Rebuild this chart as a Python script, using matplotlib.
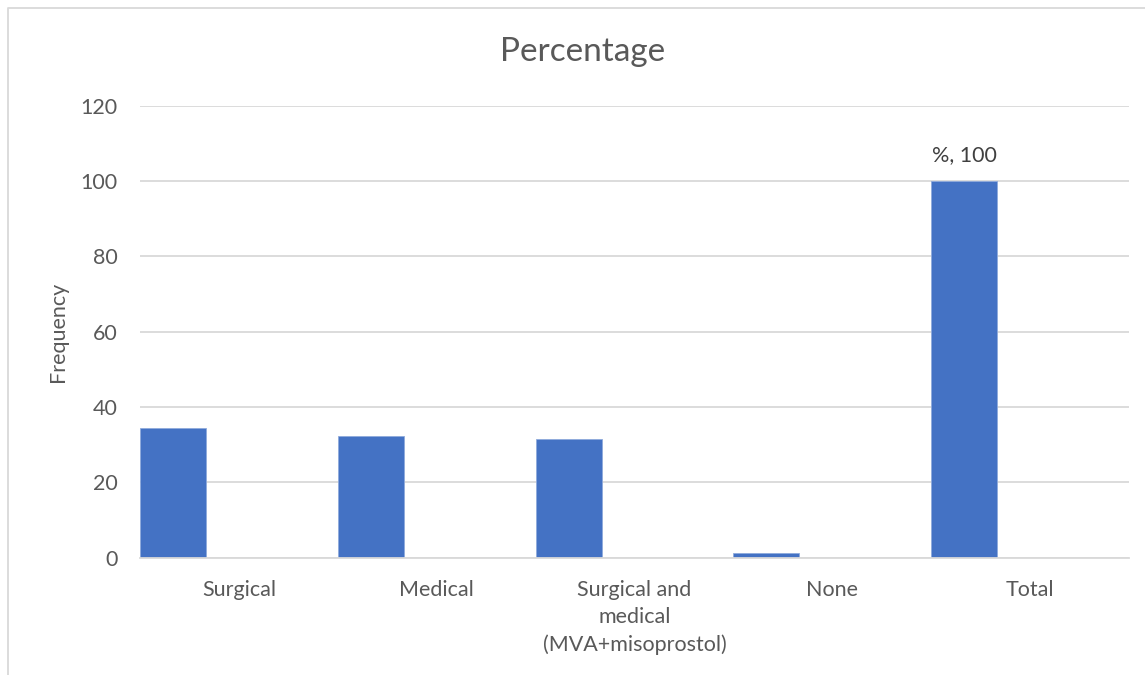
import matplotlib
matplotlib.use("Agg")
import matplotlib.pyplot as plt
from matplotlib.lines import Line2D

categories = ["Surgical", "Medical", "Surgical and\nmedical\n(MVA+misoprostol)", "None", "Total"]
percent = [34.3, 32.2, 31.4, 1.3, 100]
yticks = [0, 20, 40, 60, 80, 100, 120]

W, H = 1145, 675
fig = plt.figure(figsize=(W / 100, H / 100), dpi=100)
plt.rcParams["font.family"] = ["Lato", "DejaVu Sans"]

text_color = "#595959"
grid_color = "#d9d9d9"
bar_color = "#4472c4"
fs = 15.5

left, right = 140 / W, 1129 / W
bottom, top = 1 - 557.5 / H, 1 - 105.5 / H
ax = fig.add_axes([left, bottom, right - left, top - bottom])

x = list(range(len(categories)))
bar_w = 1 / 3
pos = [i - bar_w for i in x]
ax.bar(pos, percent, width=bar_w, color=bar_color,
       edgecolor="#8faadc", linewidth=0.6, zorder=3)

ax.set_xlim(-0.5, len(categories) - 0.5)
ax.set_ylim(0, 120)
ax.set_yticks(yticks)
ax.set_xticks(x)
ax.set_xticklabels(categories, linespacing=1.45)
ax.tick_params(axis="both", length=0, colors=text_color, labelsize=fs)
ax.tick_params(axis="x", pad=16)
ax.tick_params(axis="y", pad=16)
ax.grid(axis="y", color=grid_color, linewidth=1.3, zorder=0)
for s in ["top", "right", "left"]:
    ax.spines[s].set_visible(False)
ax.spines["bottom"].set_color(grid_color)
ax.spines["bottom"].set_linewidth(1.3)
ax.spines["bottom"].set_zorder(4)

ax.set_ylabel("Frequency", color=text_color, fontsize=fs, labelpad=9)

# value label above the total bar
ax.annotate(f"%, {percent[-1]:g}", xy=(pos[-1], percent[-1]), xytext=(0, 11),
            textcoords="offset points", ha="center", va="bottom",
            color="#404040", fontsize=fs)

fig.text(582.5 / W, 1 - 52 / H, "Percentage", ha="center", va="center",
         color=text_color, fontsize=24)

# chart area border (left and top edges)
fig.add_artist(Line2D([7.5 / W, 7.5 / W, 1.0], [0.0, 1 - 7.5 / H, 1 - 7.5 / H],
                      transform=fig.transFigure, color=grid_color, linewidth=1.3))

fig.savefig("out.png", dpi=100, facecolor="white")
